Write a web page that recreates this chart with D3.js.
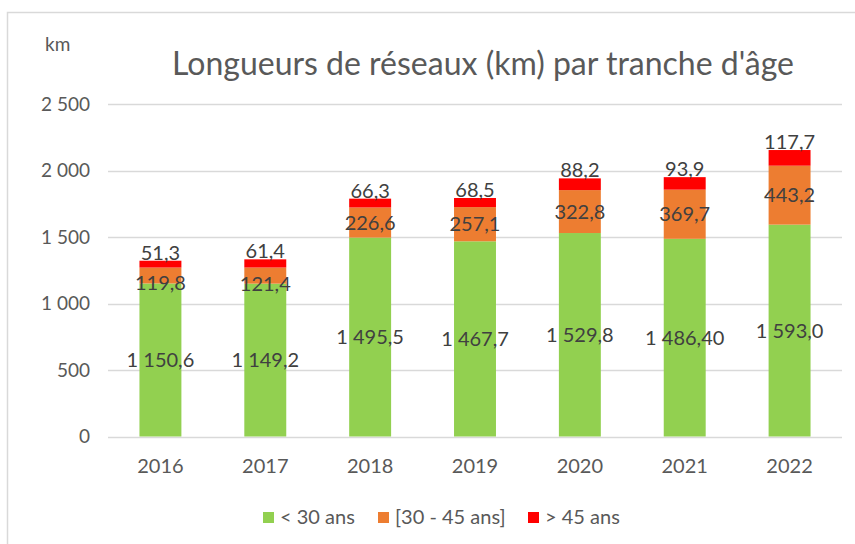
<!DOCTYPE html>
<html><head><meta charset="utf-8">
<script src="https://cdn.jsdelivr.net/npm/d3@7"></script>
<style>body{margin:0;background:#fff}svg{display:block;font-family:Lato,"Open Sans",sans-serif}</style>
</head><body><svg id="c" width="855" height="544"></svg>
<script>
const years = ["2016","2017","2018","2019","2020","2021","2022"];
const under30 = [1150.6,1149.2,1495.5,1467.7,1529.8,1486.40,1593.0];
const mid30_45 = [119.8,121.4,226.6,257.1,322.8,369.7,443.2];
const over45 = [51.3,61.4,66.3,68.5,88.2,93.9,117.7];
const under30Labels = ["1 150,6","1 149,2","1 495,5","1 467,7","1 529,8","1 486,40","1 593,0"];
const seriesNames = ["< 30 ans","[30 - 45 ans]","> 45 ans"];
const seriesColors = ["#92D050","#ED7D31","#FF0000"];
const yTicks = [0,500,1000,1500,2000,2500];
const title = "Longueurs de réseaux (km) par tranche d'âge";

const fmt = v => {
  const s = v.toFixed(1).replace(".", ",");
  const [i, d] = s.split(",");
  return i.replace(/\B(?=(\d{3})+(?!\d))/g, " ") + "," + d;
};
const tickFmt = v => String(v).replace(/\B(?=(\d{3})+(?!\d))/g, " ");

const svg = d3.select("#c");
svg.append("rect").attr("x",7.5).attr("y",12.5).attr("width",900).attr("height",600)
  .attr("fill","#fff").attr("stroke","#d9d9d9").attr("stroke-width",1.5);

const x = d3.scaleBand().domain(years).range([108,842]).paddingInner(0.6).paddingOuter(0.3);
const y = d3.scaleLinear().domain([0,2500]).range([436.5,104]);

// gridlines
svg.append("g").selectAll("line").data(yTicks).join("line")
  .attr("x1",108).attr("x2",842)
  .attr("y1",d=>Math.round(y(d))+0.5).attr("y2",d=>Math.round(y(d))+0.5)
  .attr("stroke","#d9d9d9").attr("stroke-width",1.3);

// y axis labels
const yAxis = d3.axisLeft(y).tickValues(yTicks).tickFormat(tickFmt).tickSize(0).tickPadding(0);
const ya = svg.append("g").attr("transform","translate(90,0)").call(yAxis);
ya.select(".domain").remove();
ya.selectAll("text").attr("font-size",19).attr("fill","#595959").attr("font-family","Lato");

// x axis labels
const xAxis = d3.axisBottom(x).tickSize(0).tickPadding(0);
const xa = svg.append("g").attr("transform","translate(0,473)").call(xAxis);
xa.select(".domain").remove();
xa.selectAll("text").attr("font-size",20).attr("fill","#595959").attr("font-family","Lato").attr("dy","0").attr("y",0);

// stacked bars
const rows = years.map((yr,i)=>({year:yr, s0:under30[i], s1:mid30_45[i], s2:over45[i]}));
const stack = d3.stack().keys(["s0","s1","s2"])(rows);
const g = svg.append("g");
stack.forEach((layer,li)=>{
  g.selectAll(null).data(layer).join("rect")
    .attr("x",d=>x(d.data.year)).attr("width",x.bandwidth())
    .attr("y",d=>y(d[1])).attr("height",d=>y(d[0])-y(d[1]))
    .attr("fill",seriesColors[li]);
});

// labels
const lab = svg.append("g").attr("font-family","Lato").attr("font-size",20).attr("fill","#404040").attr("text-anchor","middle");
lab.selectAll(null).data(stack[0]).join("text")
  .attr("x",d=>x(d.data.year)+x.bandwidth()/2)
  .attr("y",d=>y((d[0]+d[1])/2)).attr("dy","0.35em")
  .text((d,i)=>under30Labels[i]);
lab.selectAll(null).data(stack[1]).join("text")
  .attr("x",d=>x(d.data.year)+x.bandwidth()/2)
  .attr("y",d=>(y(d[0])-y(d[1]) < 20) ? y(d[0]) : y((d[0]+d[1])/2)).attr("dy","0.35em")
  .text(d=>fmt(d[1]-d[0]));
lab.selectAll(null).data(stack[2]).join("text")
  .attr("x",d=>x(d.data.year)+x.bandwidth()/2)
  .attr("y",d=>y(d[1])-1)
  .text(d=>fmt(d[1]-d[0]));

// title
svg.append("text").attr("x",483).attr("y",75).attr("text-anchor","middle")
  .attr("font-family","Lato").attr("font-size",32).attr("fill","#595959").text(title);
// unit
svg.append("text").attr("x",45).attr("y",51).attr("font-family","Lato").attr("font-size",19)
  .attr("fill","#595959").text("km");

// legend
const legX = [263,378,528];
const leg = svg.append("g");
seriesNames.forEach((n,i)=>{
  leg.append("rect").attr("x",legX[i]).attr("y",512).attr("width",11).attr("height",11).attr("fill",seriesColors[i]);
  leg.append("text").attr("x",legX[i]+17).attr("y",517).attr("dy","0.35em")
    .attr("font-family","Lato").attr("font-size",20).attr("fill","#595959").text(n);
});
</script></body></html>
